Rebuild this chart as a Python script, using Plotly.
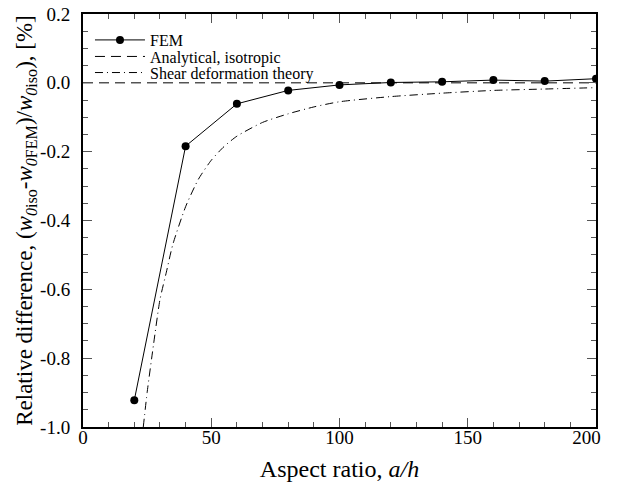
import plotly.graph_objects as go

# FEM data
fem_x = [20, 40, 60, 80, 100, 120, 140, 160, 180, 200]
fem_y = [-0.922, -0.184, -0.061, -0.022, -0.006, 0.001, 0.003, 0.008, 0.005, 0.012]

# Analytical, isotropic (reference line)
iso_x = [0, 200]
iso_y = [0.0, 0.0]

# Shear deformation theory
sdt_x = [23.5, 25, 27.5, 30, 32.5, 35, 40, 45, 50, 55, 60, 70, 80, 90, 100, 120, 140, 160, 180, 200]
sdt_y = [-1.0, -0.9, -0.76, -0.63, -0.55, -0.47, -0.36, -0.28, -0.225, -0.185, -0.155,
         -0.115, -0.09, -0.07, -0.055, -0.04, -0.03, -0.022, -0.018, -0.014]

x_ticks = [0, 50, 100, 150, 200]
x_labels = ["0", "50", "100", "150", "200\u00a0\u00a0\u00a0\u00a0"]
y_ticks = [0.2, 0.0, -0.2, -0.4, -0.6, -0.8, -1.0]
y_labels = ["0.2", "0.0", "-0.2", "-0.4", "-0.6", "-0.8", "-1.0"]

font_family = "Liberation Serif"

fig = go.Figure()
fig.add_trace(go.Scatter(
    x=fem_x, y=fem_y, mode="lines+markers", name="FEM", legend="legend",
    line=dict(color="black", width=1),
    marker=dict(color="black", size=8, symbol="circle"),
))
fig.add_trace(go.Scatter(
    x=iso_x, y=iso_y, mode="lines", name="Analytical, isotropic", legend="legend2",
    line=dict(color="black", width=1, dash="10px,6px"),
))
fig.add_trace(go.Scatter(
    x=sdt_x, y=sdt_y, mode="lines", name="Shear deformation theory", legend="legend3",
    line=dict(color="black", width=1, dash="8px,4px,1px,4px", shape="spline", smoothing=0.6),
))

axis_common = dict(
    showline=True, linecolor="black", linewidth=2, mirror="ticks",
    ticks="inside", tickcolor="#555555", tickwidth=1, ticklen=9,
    showgrid=False, zeroline=False, automargin=False,
    ticklabeloverflow="allow",
    tickfont=dict(family=font_family, size=19, color="black"),
)

fig.update_xaxes(
    range=[0, 200], tickvals=x_ticks, ticktext=x_labels,
    minor=dict(dtick=10, ticks="inside", ticklen=5, tickcolor="#555555", tickwidth=1),
    ticklabelstandoff=-8,
    title=dict(text="Aspect ratio, <i>a/h</i>", font=dict(family=font_family, size=24, color="black"), standoff=14),
    **axis_common,
)
fig.update_yaxes(
    range=[-1.0, 0.2], tickvals=y_ticks, ticktext=y_labels,
    minor=dict(dtick=0.05, tick0=0, ticks="inside", ticklen=5, tickcolor="#555555", tickwidth=1),
    ticklabelstandoff=7,
    title=dict(
        text="Relative difference, (<i>w</i><sub><i>0</i>iso</sub>-<i>w</i><sub><i>0</i>FEM</sub>)/<i>w</i><sub><i>0</i>iso</sub>), [%]",
        font=dict(family=font_family, size=23, color="black"), standoff=1),
    **axis_common,
)

legend_common = dict(
    x=0.0136, xanchor="left", yanchor="middle",
    bgcolor="rgba(0,0,0,0)", borderwidth=0,
    font=dict(family=font_family, size=16, color="black"),
    itemwidth=50,
)

fig.update_layout(
    width=620, height=482,
    margin=dict(l=83, r=24, t=14, b=55),
    paper_bgcolor="white", plot_bgcolor="white",
    showlegend=True,
    legend=dict(y=0.937, **legend_common),
    legend2=dict(y=0.897, **legend_common),
    legend3=dict(y=0.858, **legend_common),
    font=dict(family=font_family, color="black"),
)

# remove the default 8px page margin so the figure fills the window exactly
fig.write_html(
    "out.html",
    config={"displayModeBar": False},
    post_script="document.body.style.margin='0';",
)
